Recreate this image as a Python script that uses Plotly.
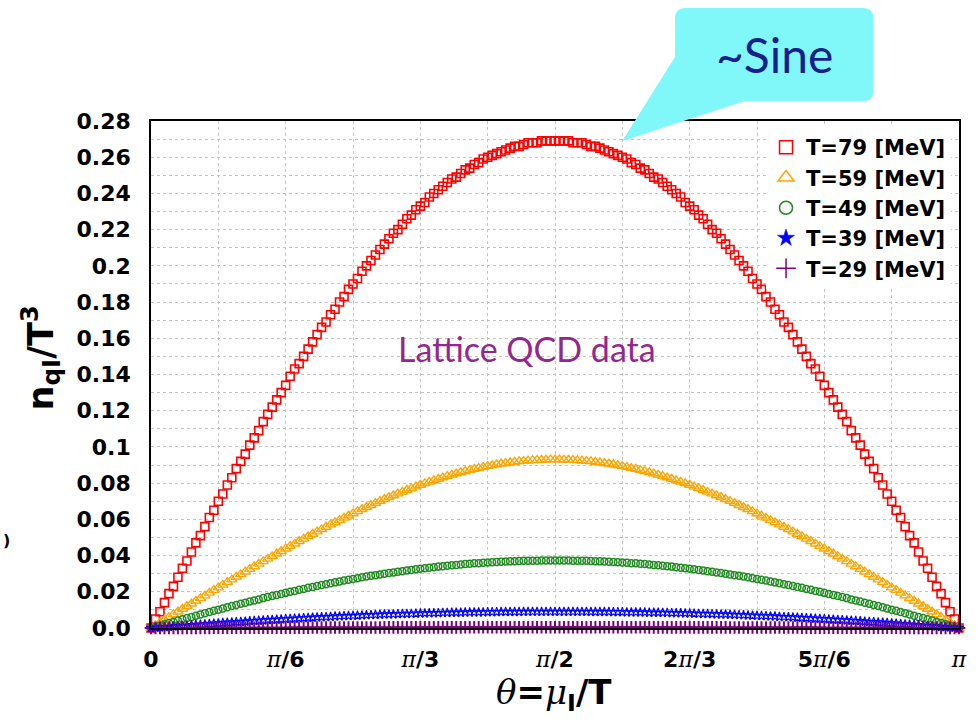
import plotly.graph_objects as go

# ---------------- data ----------------
theta_deg = list(range(0, 181))  # theta = mu_I/T sampled in degrees, 0 .. 180 (= pi)

n_T79 = [0.000, 0.005, 0.009, 0.014, 0.019, 0.023, 0.028, 0.033, 0.037, 0.042,
         0.047, 0.051, 0.056, 0.061, 0.065, 0.070, 0.074, 0.079, 0.083, 0.088,
         0.092, 0.096, 0.101, 0.105, 0.109, 0.114, 0.118, 0.122, 0.126, 0.130,
         0.134, 0.139, 0.143, 0.146, 0.150, 0.154, 0.158, 0.162, 0.166, 0.169,
         0.173, 0.176, 0.180, 0.183, 0.187, 0.190, 0.193, 0.197, 0.200, 0.203,
         0.206, 0.209, 0.212, 0.215, 0.218, 0.220, 0.223, 0.226, 0.228, 0.231,
         0.233, 0.235, 0.238, 0.240, 0.242, 0.244, 0.246, 0.248, 0.249, 0.251,
         0.253, 0.254, 0.256, 0.257, 0.259, 0.260, 0.261, 0.262, 0.263, 0.264,
         0.265, 0.266, 0.266, 0.267, 0.268, 0.268, 0.268, 0.269, 0.269, 0.269,
         0.269,
         0.269, 0.269, 0.269, 0.268, 0.268, 0.268, 0.267, 0.266, 0.266, 0.265,
         0.264, 0.263, 0.262, 0.261, 0.260, 0.259, 0.257, 0.256, 0.254, 0.253,
         0.251, 0.249, 0.248, 0.246, 0.244, 0.242, 0.240, 0.238, 0.235, 0.233,
         0.231, 0.228, 0.226, 0.223, 0.220, 0.218, 0.215, 0.212, 0.209, 0.206,
         0.203, 0.200, 0.197, 0.193, 0.190, 0.187, 0.183, 0.180, 0.176, 0.173,
         0.169, 0.166, 0.162, 0.158, 0.154, 0.150, 0.146, 0.143, 0.139, 0.134,
         0.130, 0.126, 0.122, 0.118, 0.114, 0.109, 0.105, 0.101, 0.096, 0.092,
         0.088, 0.083, 0.079, 0.074, 0.070, 0.065, 0.061, 0.056, 0.051, 0.047,
         0.042, 0.037, 0.033, 0.028, 0.023, 0.019, 0.014, 0.009, 0.005, 0.000]

n_T59 = [0.0000, 0.0015, 0.0030, 0.0045, 0.0060, 0.0075, 0.0090, 0.0105, 0.0120, 0.0134,
         0.0149, 0.0164, 0.0179, 0.0194, 0.0209, 0.0223, 0.0238, 0.0253, 0.0267, 0.0282,
         0.0296, 0.0311, 0.0325, 0.0340, 0.0354, 0.0368, 0.0382, 0.0396, 0.0410, 0.0424,
         0.0438, 0.0452, 0.0465, 0.0479, 0.0492, 0.0506, 0.0519, 0.0532, 0.0545, 0.0558,
         0.0571, 0.0583, 0.0596, 0.0608, 0.0620, 0.0632, 0.0644, 0.0656, 0.0667, 0.0678,
         0.0690, 0.0701, 0.0711, 0.0722, 0.0732, 0.0742, 0.0752, 0.0762, 0.0771, 0.0781,
         0.0790, 0.0799, 0.0807, 0.0815, 0.0823, 0.0831, 0.0839, 0.0846, 0.0853, 0.0860,
         0.0866, 0.0872, 0.0878, 0.0883, 0.0889, 0.0894, 0.0898, 0.0903, 0.0907, 0.0910,
         0.0914, 0.0917, 0.0920, 0.0922, 0.0924, 0.0926, 0.0927, 0.0928, 0.0929, 0.0930,
         0.0930,
         0.0930, 0.0929, 0.0928, 0.0927, 0.0926, 0.0924, 0.0922, 0.0920, 0.0917, 0.0914,
         0.0910, 0.0907, 0.0903, 0.0898, 0.0894, 0.0889, 0.0883, 0.0878, 0.0872, 0.0866,
         0.0860, 0.0853, 0.0846, 0.0839, 0.0831, 0.0823, 0.0815, 0.0807, 0.0799, 0.0790,
         0.0781, 0.0771, 0.0762, 0.0752, 0.0742, 0.0732, 0.0722, 0.0711, 0.0701, 0.0690,
         0.0678, 0.0667, 0.0656, 0.0644, 0.0632, 0.0620, 0.0608, 0.0596, 0.0583, 0.0571,
         0.0558, 0.0545, 0.0532, 0.0519, 0.0506, 0.0492, 0.0479, 0.0465, 0.0452, 0.0438,
         0.0424, 0.0410, 0.0396, 0.0382, 0.0368, 0.0354, 0.0340, 0.0325, 0.0311, 0.0296,
         0.0282, 0.0267, 0.0253, 0.0238, 0.0223, 0.0209, 0.0194, 0.0179, 0.0164, 0.0149,
         0.0134, 0.0120, 0.0105, 0.0090, 0.0075, 0.0060, 0.0045, 0.0030, 0.0015, 0.0000]

n_T49 = [0.0000, 0.0007, 0.0014, 0.0021, 0.0027, 0.0034, 0.0041, 0.0048, 0.0055, 0.0061,
         0.0068, 0.0075, 0.0082, 0.0088, 0.0095, 0.0101, 0.0108, 0.0114, 0.0121, 0.0127,
         0.0134, 0.0140, 0.0146, 0.0152, 0.0158, 0.0165, 0.0171, 0.0177, 0.0182, 0.0188,
         0.0194, 0.0200, 0.0205, 0.0211, 0.0216, 0.0222, 0.0227, 0.0232, 0.0237, 0.0242,
         0.0247, 0.0252, 0.0257, 0.0262, 0.0266, 0.0271, 0.0275, 0.0280, 0.0284, 0.0288,
         0.0292, 0.0296, 0.0300, 0.0304, 0.0307, 0.0311, 0.0314, 0.0318, 0.0321, 0.0324,
         0.0327, 0.0330, 0.0333, 0.0336, 0.0339, 0.0341, 0.0344, 0.0346, 0.0348, 0.0351,
         0.0353, 0.0355, 0.0357, 0.0358, 0.0360, 0.0362, 0.0363, 0.0364, 0.0366, 0.0367,
         0.0368, 0.0369, 0.0370, 0.0371, 0.0371, 0.0372, 0.0372, 0.0373, 0.0373, 0.0373,
         0.0373,
         0.0373, 0.0373, 0.0373, 0.0372, 0.0372, 0.0371, 0.0371, 0.0370, 0.0369, 0.0368,
         0.0367, 0.0366, 0.0364, 0.0363, 0.0362, 0.0360, 0.0358, 0.0357, 0.0355, 0.0353,
         0.0351, 0.0348, 0.0346, 0.0344, 0.0341, 0.0339, 0.0336, 0.0333, 0.0330, 0.0327,
         0.0324, 0.0321, 0.0318, 0.0314, 0.0311, 0.0307, 0.0304, 0.0300, 0.0296, 0.0292,
         0.0288, 0.0284, 0.0280, 0.0275, 0.0271, 0.0266, 0.0262, 0.0257, 0.0252, 0.0247,
         0.0242, 0.0237, 0.0232, 0.0227, 0.0222, 0.0216, 0.0211, 0.0205, 0.0200, 0.0194,
         0.0188, 0.0182, 0.0177, 0.0171, 0.0165, 0.0158, 0.0152, 0.0146, 0.0140, 0.0134,
         0.0127, 0.0121, 0.0114, 0.0108, 0.0101, 0.0095, 0.0088, 0.0082, 0.0075, 0.0068,
         0.0061, 0.0055, 0.0048, 0.0041, 0.0034, 0.0027, 0.0021, 0.0014, 0.0007, 0.0000]

n_T39 = [0.0000, 0.0002, 0.0004, 0.0005, 0.0007, 0.0009, 0.0011, 0.0012, 0.0014, 0.0016,
         0.0018, 0.0019, 0.0021, 0.0023, 0.0025, 0.0026, 0.0028, 0.0030, 0.0031, 0.0033,
         0.0034, 0.0036, 0.0038, 0.0039, 0.0041, 0.0042, 0.0044, 0.0045, 0.0047, 0.0048,
         0.0050, 0.0051, 0.0052, 0.0054, 0.0055, 0.0056, 0.0058, 0.0059, 0.0060, 0.0061,
         0.0062, 0.0064, 0.0065, 0.0066, 0.0067, 0.0068, 0.0069, 0.0070, 0.0071, 0.0072,
         0.0073, 0.0074, 0.0075, 0.0075, 0.0076, 0.0077, 0.0078, 0.0078, 0.0079, 0.0080,
         0.0081, 0.0081, 0.0082, 0.0082, 0.0083, 0.0084, 0.0084, 0.0085, 0.0085, 0.0085,
         0.0086, 0.0086, 0.0087, 0.0087, 0.0087, 0.0088, 0.0088, 0.0088, 0.0089, 0.0089,
         0.0089, 0.0089, 0.0089, 0.0090, 0.0090, 0.0090, 0.0090, 0.0090, 0.0090, 0.0090,
         0.0090,
         0.0090, 0.0090, 0.0090, 0.0090, 0.0090, 0.0090, 0.0090, 0.0089, 0.0089, 0.0089,
         0.0089, 0.0089, 0.0088, 0.0088, 0.0088, 0.0087, 0.0087, 0.0087, 0.0086, 0.0086,
         0.0085, 0.0085, 0.0085, 0.0084, 0.0084, 0.0083, 0.0082, 0.0082, 0.0081, 0.0081,
         0.0080, 0.0079, 0.0078, 0.0078, 0.0077, 0.0076, 0.0075, 0.0075, 0.0074, 0.0073,
         0.0072, 0.0071, 0.0070, 0.0069, 0.0068, 0.0067, 0.0066, 0.0065, 0.0064, 0.0062,
         0.0061, 0.0060, 0.0059, 0.0058, 0.0056, 0.0055, 0.0054, 0.0052, 0.0051, 0.0050,
         0.0048, 0.0047, 0.0045, 0.0044, 0.0042, 0.0041, 0.0039, 0.0038, 0.0036, 0.0034,
         0.0033, 0.0031, 0.0030, 0.0028, 0.0026, 0.0025, 0.0023, 0.0021, 0.0019, 0.0018,
         0.0016, 0.0014, 0.0012, 0.0011, 0.0009, 0.0007, 0.0005, 0.0004, 0.0002, 0.0000]

n_T29 = [0.00000, 0.00001, 0.00001, 0.00002, 0.00003, 0.00003, 0.00004, 0.00005, 0.00006, 0.00006,
         0.00007, 0.00008, 0.00008, 0.00009, 0.00010, 0.00010, 0.00011, 0.00012, 0.00012, 0.00013,
         0.00014, 0.00014, 0.00015, 0.00016, 0.00016, 0.00017, 0.00018, 0.00018, 0.00019, 0.00019,
         0.00020, 0.00021, 0.00021, 0.00022, 0.00022, 0.00023, 0.00024, 0.00024, 0.00025, 0.00025,
         0.00026, 0.00026, 0.00027, 0.00027, 0.00028, 0.00028, 0.00029, 0.00029, 0.00030, 0.00030,
         0.00031, 0.00031, 0.00032, 0.00032, 0.00032, 0.00033, 0.00033, 0.00034, 0.00034, 0.00034,
         0.00035, 0.00035, 0.00035, 0.00036, 0.00036, 0.00036, 0.00037, 0.00037, 0.00037, 0.00037,
         0.00038, 0.00038, 0.00038, 0.00038, 0.00038, 0.00039, 0.00039, 0.00039, 0.00039, 0.00039,
         0.00039, 0.00040, 0.00040, 0.00040, 0.00040, 0.00040, 0.00040, 0.00040, 0.00040, 0.00040,
         0.00040,
         0.00040, 0.00040, 0.00040, 0.00040, 0.00040, 0.00040, 0.00040, 0.00040, 0.00040, 0.00039,
         0.00039, 0.00039, 0.00039, 0.00039, 0.00039, 0.00038, 0.00038, 0.00038, 0.00038, 0.00038,
         0.00037, 0.00037, 0.00037, 0.00037, 0.00036, 0.00036, 0.00036, 0.00035, 0.00035, 0.00035,
         0.00034, 0.00034, 0.00034, 0.00033, 0.00033, 0.00032, 0.00032, 0.00032, 0.00031, 0.00031,
         0.00030, 0.00030, 0.00029, 0.00029, 0.00028, 0.00028, 0.00027, 0.00027, 0.00026, 0.00026,
         0.00025, 0.00025, 0.00024, 0.00024, 0.00023, 0.00022, 0.00022, 0.00021, 0.00021, 0.00020,
         0.00019, 0.00019, 0.00018, 0.00018, 0.00017, 0.00016, 0.00016, 0.00015, 0.00014, 0.00014,
         0.00013, 0.00012, 0.00012, 0.00011, 0.00010, 0.00010, 0.00009, 0.00008, 0.00008, 0.00007,
         0.00006, 0.00006, 0.00005, 0.00004, 0.00003, 0.00003, 0.00002, 0.00001, 0.00001, 0.00000]

series_names = ["T=79 [MeV]", "T=59 [MeV]", "T=49 [MeV]", "T=39 [MeV]", "T=29 [MeV]"]
series_values = [n_T79, n_T59, n_T49, n_T39, n_T29]

x_tickvals = [0, 30, 60, 90, 120, 150, 180]
PI = "<span style='font-family:DejaVu Serif;font-weight:normal;font-style:italic'>π</span>"
x_ticktext = ["0", PI + "/6", PI + "/3", PI + "/2", "2" + PI + "/3", "5" + PI + "/6", PI]
y_tickvals = [0.0, 0.02, 0.04, 0.06, 0.08, 0.10, 0.12, 0.14, 0.16, 0.18, 0.20, 0.22, 0.24, 0.26, 0.28]
y_ticktext = ["0.0", "0.02", "0.04", "0.06", "0.08", "0.1", "0.12", "0.14", "0.16", "0.18",
              "0.2", "0.22", "0.24", "0.26", "0.28"]

# ---------------- styles ----------------
colors = ["#ff0000", "#ffa500", "#1f8a1f", "#0000ff", "#800080"]
symbols = ["square-open", "triangle-up-open", "circle-open", "star-open", "cross-thin-open"]
msizes = [8, 9, 7, 7, 9]
mwidths = [1.6, 1.4, 1.5, 1.1, 2.0]
legend_symbols = ["square-open", "triangle-up-open", "circle-open", "star", "cross-thin-open"]
legend_sizes = [13, 14, 13, 13, 14]

W, H = 979, 726
L, R, T, B = 151, 962, 121, 628


def px(x):
    return (x - L) / (R - L)


def py(y):
    return (B - y) / (B - T)


FONT = "DejaVu Sans"

fig = go.Figure()
for name, vals, c, s, ms, mw in zip(series_names, series_values, colors, symbols, msizes, mwidths):
    fig.add_trace(go.Scatter(
        x=theta_deg, y=vals, mode="markers", name=name, showlegend=False,
        cliponaxis=False,
        marker=dict(symbol=s, size=ms, color=c, line=dict(color=c, width=mw)),
    ))

# legend entries (larger symbols, no data)
for name, c, s, ls in zip(series_names, colors, legend_symbols, legend_sizes):
    fig.add_trace(go.Scatter(
        x=[None], y=[None], mode="markers", name=name, showlegend=True,
        marker=dict(symbol=s, size=ls, color=c, line=dict(color=c, width=1.5 if s != "star" else 0.5)),
    ))

GRIDC = "#c4c4c4"
fig.update_xaxes(
    range=[0, 180], tickvals=x_tickvals, ticktext=x_ticktext,
    tickfont=dict(family=FONT, size=22, color="black", weight="bold"),
    ticks="", showline=True, linecolor="black", linewidth=1.6, mirror=True,
    zeroline=False, ticklabelstandoff=11,
    showgrid=True, gridcolor=GRIDC, griddash="dot", gridwidth=1,
    minor=dict(dtick=15, tick0=0, showgrid=True, gridcolor=GRIDC, griddash="dot", gridwidth=1),
)
fig.update_yaxes(
    range=[0, 0.28], tickvals=y_tickvals, ticktext=y_ticktext,
    tickfont=dict(family=FONT, size=22, color="black", weight="bold"),
    ticks="", showline=True, linecolor="black", linewidth=1.6, mirror=True,
    zeroline=False, ticklabelstandoff=14,
    showgrid=True, gridcolor=GRIDC, griddash="dot", gridwidth=1,
    minor=dict(dtick=0.01, tick0=0, showgrid=True, gridcolor=GRIDC, griddash="dot", gridwidth=1),
)

# callout bubble
r = 10
path = (
    f"M {px(677 + r)},{py(8)} H {px(876 - r)} Q {px(876)},{py(8)} {px(876)},{py(8 + r)} "
    f"V {py(101 - r)} Q {px(876)},{py(101)} {px(876 - r)},{py(101)} "
    f"H {px(747)} L {px(624)},{py(141)} L {px(677)},{py(57)} "
    f"V {py(8 + r)} Q {px(677)},{py(8)} {px(677 + r)},{py(8)} Z"
)
fig.add_shape(type="path", path=path, xref="paper", yref="paper",
              fillcolor="#80f8fa", line=dict(width=0), layer="above")

SERIF = "font-family:DejaVu Serif;font-weight:normal;font-style:italic"
fig.update_layout(
    width=W, height=H,
    margin=dict(l=L, r=W - R, t=T, b=H - B),
    plot_bgcolor="white", paper_bgcolor="white",
    legend=dict(
        x=px(954), xanchor="right", y=py(127), yanchor="top",
        bgcolor="white", borderwidth=0,
        font=dict(family=FONT, size=21, color="black", weight="bold"),
        tracegroupgap=0, itemwidth=30,
    ),
    annotations=[
        dict(text="~Sine", x=px(777), y=py(54), xref="paper", yref="paper",
             showarrow=False, xanchor="center", yanchor="middle",
             font=dict(family="Lato", size=48, color="#161f8c")),
        dict(text="Lattice QCD data", x=px(528), y=py(348), xref="paper", yref="paper",
             showarrow=False, xanchor="center", yanchor="middle",
             font=dict(family="Lato", size=34, color="#93278f")),
        dict(text=f"<span style='{SERIF}'>θ</span>=<span style='{SERIF}'>μ</span><sub>I</sub>/T",
             x=px(555), y=py(694), xref="paper", yref="paper", showarrow=False,
             xanchor="center", yanchor="middle",
             font=dict(family=FONT, size=34, color="black", weight="bold")),
        dict(text="n<sub>qI</sub>/T<sup>3</sup>", x=px(40), y=py(358), xref="paper", yref="paper",
             showarrow=False, xanchor="center", yanchor="middle", textangle=-90,
             font=dict(family=FONT, size=35, color="black", weight="bold")),
        dict(text=")", x=px(0), y=py(540), xref="paper", yref="paper", showarrow=False,
             xanchor="left", yanchor="middle",
             font=dict(family=FONT, size=16, color="black", weight="bold")),
    ],
)

fig.write_html("out.html")
